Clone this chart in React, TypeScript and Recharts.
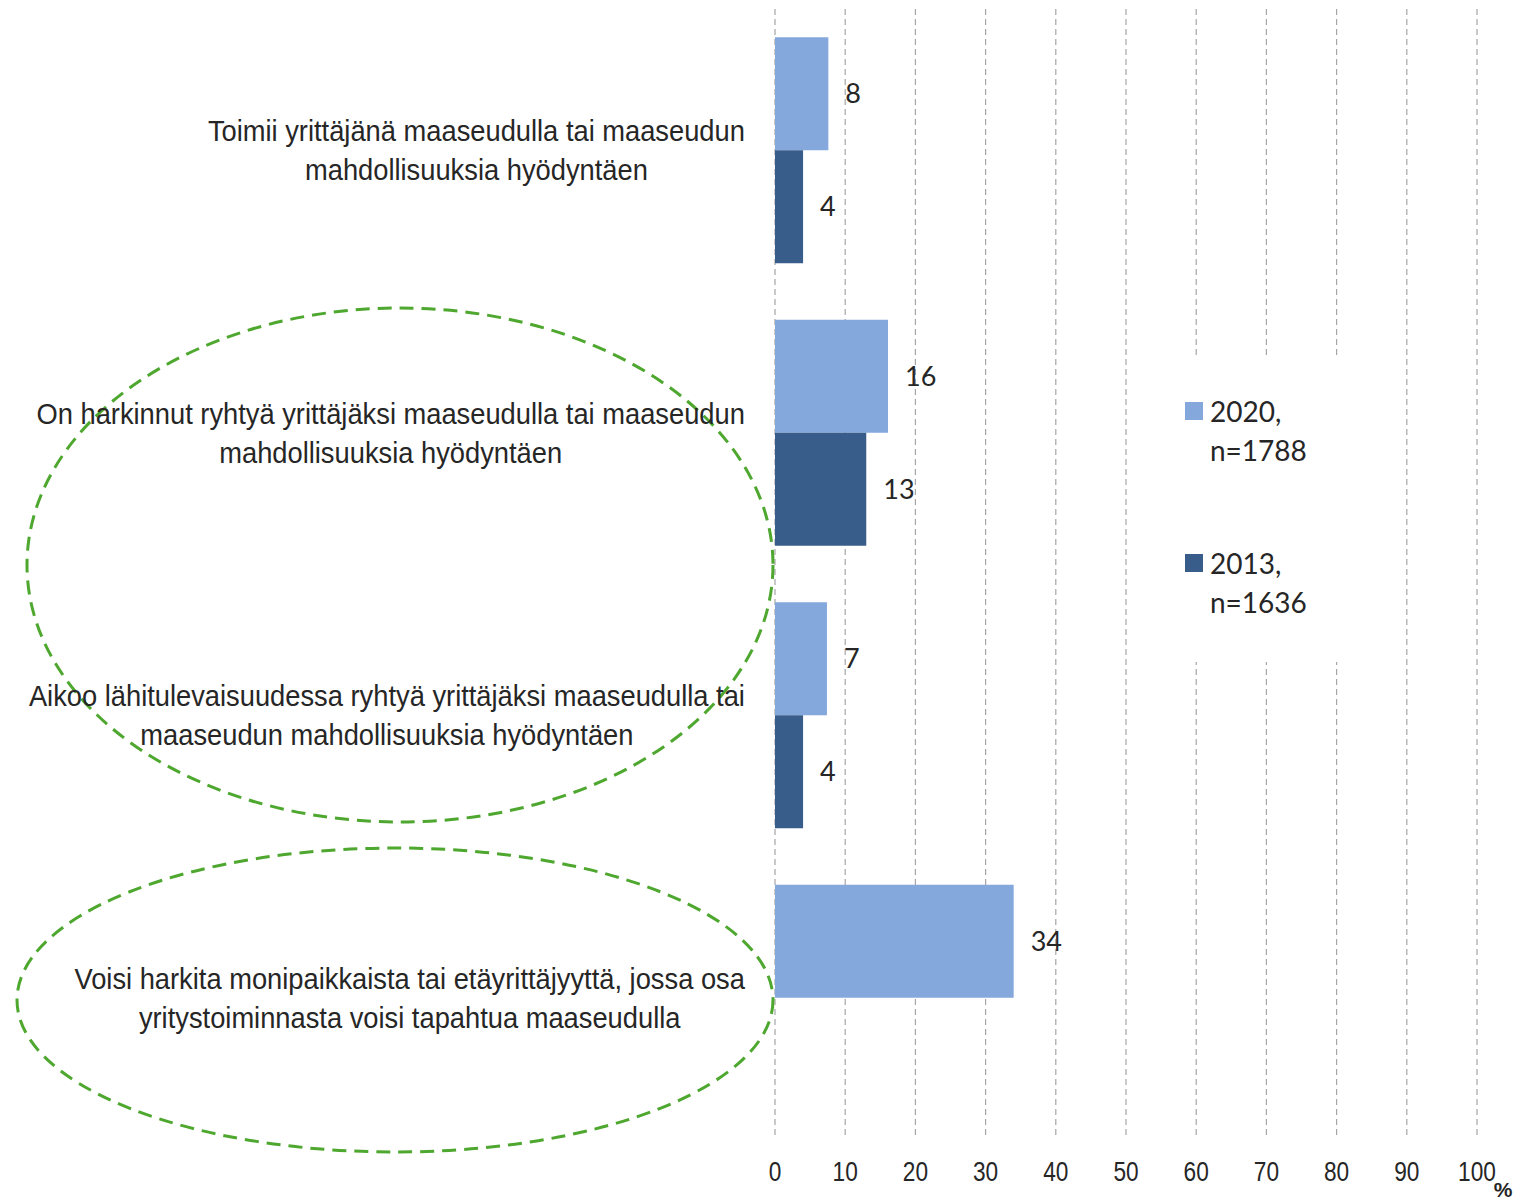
import React from "react";
import {
  BarChart,
  Bar,
  XAxis,
  YAxis,
  CartesianGrid,
  LabelList,
  Customized,
} from "recharts";

const categories = [
  "Toimii yrittäjänä maaseudulla tai maaseudun\nmahdollisuuksia hyödyntäen",
  "On harkinnut ryhtyä yrittäjäksi maaseudulla tai maaseudun\nmahdollisuuksia hyödyntäen",
  "Aikoo lähitulevaisuudessa ryhtyä yrittäjäksi maaseudulla tai\nmaaseudun mahdollisuuksia hyödyntäen",
  "Voisi harkita monipaikkaista tai etäyrittäjyyttä, jossa osa\nyritystoiminnasta voisi tapahtua maaseudulla",
];
const values2020 = [7.6, 16.1, 7.4, 34];
const values2013 = [4, 13, 4, null];
const xTicks = [0, 10, 20, 30, 40, 50, 60, 70, 80, 90, 100];
const legendItems = [
  { key: "2020", lines: ["2020,", "n=1788"], color: "#84a8dc" },
  { key: "2013", lines: ["2013,", "n=1636"], color: "#385d8a" },
];

const data = categories.map((name, i) => ({
  name,
  v2020: values2020[i],
  v2013: values2013[i],
}));

const LABEL_FONT = '"Liberation Sans", Arial, sans-serif';
const VALUE_FONT = 'Lato, "Open Sans", sans-serif';
const NARROW = 0.91;
const TICK_NARROW = 0.84;

let measureCtx: CanvasRenderingContext2D | null = null;
const measure = (text: string, font: string) => {
  if (!measureCtx) measureCtx = document.createElement("canvas").getContext("2d");
  if (!measureCtx) return text.length * 14;
  measureCtx.font = font;
  return measureCtx.measureText(text).width;
};

const CategoryTick = (props: any) => {
  const { x, y, payload } = props;
  const lines: string[] = String(payload.value).split("\n");
  const fontSize = 30;
  const widths = lines.map((l) => measure(l, `${fontSize}px ${LABEL_FONT}`) * NARROW);
  const maxW = Math.max(...widths);
  const cx = x - maxW / 2;
  const lh = 39;
  const top = y - ((lines.length - 1) * lh) / 2;
  return (
    <g>
      {lines.map((l, i) => (
        <text
          key={i}
          transform={`translate(${cx},${top + i * lh}) scale(${NARROW},1)`}
          textAnchor="middle"
          dominantBaseline="central"
          fontFamily={LABEL_FONT}
          fontSize={fontSize}
          fill="#262626"
        >
          {l}
        </text>
      ))}
    </g>
  );
};

const ValueTick = (props: any) => {
  const { x, y, payload } = props;
  return (
    <text
      transform={`translate(${x},${y + 24}) scale(${TICK_NARROW},1)`}
      textAnchor="middle"
      dominantBaseline="central"
      fontFamily={LABEL_FONT}
      fontSize={27}
      fill="#262626"
    >
      {payload.value}
    </text>
  );
};

const Annotations = () => (
  <g>
    <rect x={1160} y={355} width={230} height={307} fill="#fff" />
    {legendItems.map((item, i) => {
      const top = 411 + i * 152;
      return (
        <g key={item.key}>
          <rect x={1185} y={top - 9} width={18} height={18} fill={item.color} />
          {item.lines.map((l, j) => (
            <text
              key={l}
              x={1210}
              y={top + j * 39}
              dominantBaseline="central"
              fontFamily={VALUE_FONT}
              fontSize={28}
              fill="#262626"
            >
              {l}
            </text>
          ))}
        </g>
      );
    })}
    <ellipse
      cx={400}
      cy={565}
      rx={373}
      ry={257}
      fill="none"
      stroke="#4ea72e"
      strokeWidth={3}
      strokeDasharray="14 8"
    />
    <ellipse
      cx={395}
      cy={1000}
      rx={378}
      ry={152}
      fill="none"
      stroke="#4ea72e"
      strokeWidth={3}
      strokeDasharray="14 8"
    />
    <text
      x={1503}
      y={1189}
      textAnchor="middle"
      dominantBaseline="central"
      fontFamily={LABEL_FONT}
      fontWeight="bold"
      fontSize={21}
      fill="#262626"
    >
      %
    </text>
  </g>
);

const fmt = (v: any) => (v == null ? "" : Math.round(Number(v)));

export default function App() {
  return (
    <div style={{ position: "absolute", left: 0, top: 0, width: 1530, height: 1200, background: "#fff" }}>
      <BarChart
        width={1530}
        height={1200}
        data={data}
        layout="vertical"
        margin={{ top: 9, right: 53, bottom: 0, left: 0 }}
        barCategoryGap="10%"
        barGap={0}
      >
        <CartesianGrid
          horizontal={false}
          vertical={true}
          stroke="#a6a6a6"
          strokeDasharray="6 4"
          strokeWidth={1.2}
        />
        <XAxis
          type="number"
          domain={[0, 100]}
          ticks={xTicks}
          axisLine={false}
          tickLine={false}
          height={61}
          tick={<ValueTick />}
          interval={0}
        />
        <YAxis
          type="category"
          dataKey="name"
          width={775}
          axisLine={false}
          tickLine={false}
          tickSize={0}
          tickMargin={30}
          tick={<CategoryTick />}
          interval={0}
        />
        <Bar dataKey="v2020" name="2020, n=1788" fill="#84a8dc" isAnimationActive={false}>
          <LabelList
            dataKey="v2020"
            position="right"
            offset={17}
            formatter={fmt}
            style={{ fontFamily: VALUE_FONT, fontSize: 27, fill: "#262626" }}
          />
        </Bar>
        <Bar dataKey="v2013" name="2013, n=1636" fill="#385d8a" isAnimationActive={false}>
          <LabelList
            dataKey="v2013"
            position="right"
            offset={17}
            formatter={fmt}
            style={{ fontFamily: VALUE_FONT, fontSize: 27, fill: "#262626" }}
          />
        </Bar>
        <Customized component={<Annotations />} />
      </BarChart>
    </div>
  );
}
